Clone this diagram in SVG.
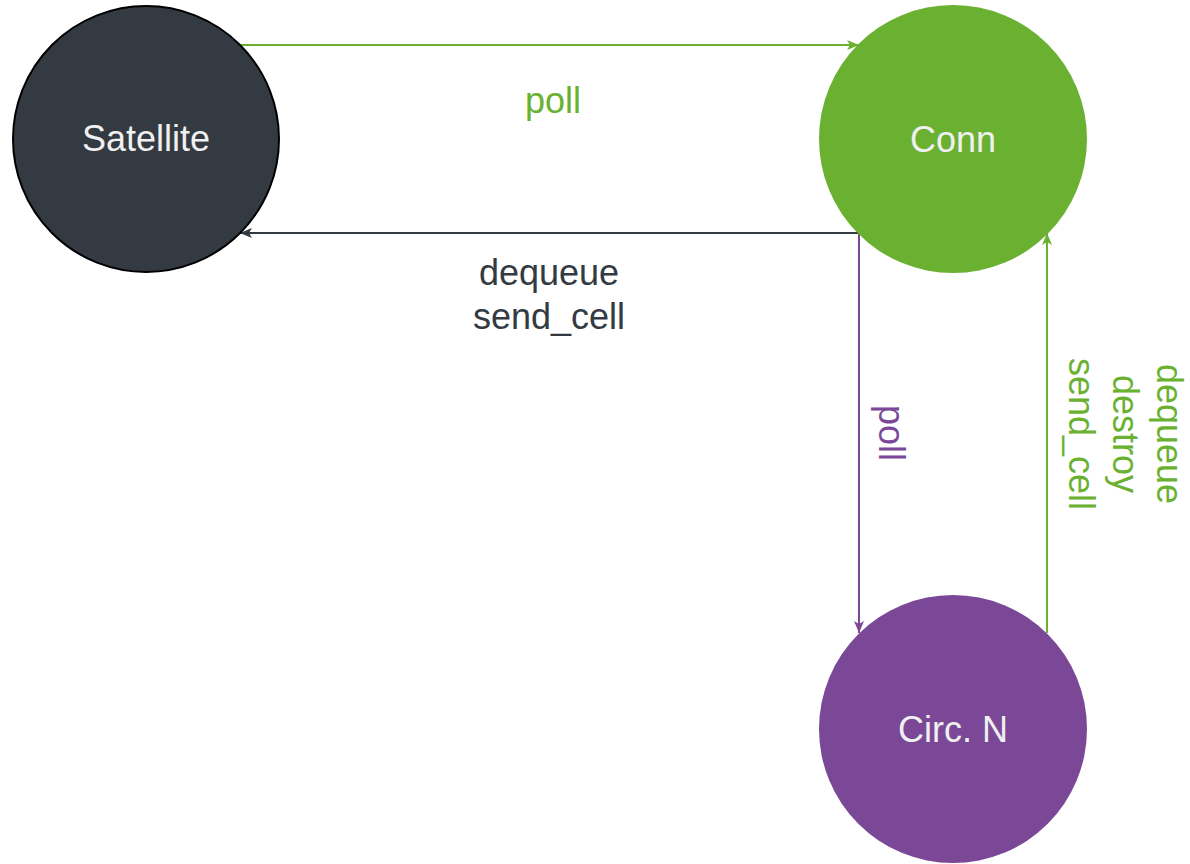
<svg xmlns="http://www.w3.org/2000/svg" width="1190" height="864" viewBox="0 0 1190 864">
<defs>
<style>
text{font-family:"Liberation Sans",Arial,sans-serif;font-size:36px;text-anchor:middle}
.node{fill:#f0f0f0}
.edge{fill:none;stroke-width:2}
.green{stroke:#6ab132}
.dark{stroke:#343a42}
.purple{stroke:#7b4897}
</style>
<marker id="ag" markerUnits="userSpaceOnUse" markerWidth="14" markerHeight="12" refX="12" refY="6" orient="auto"><path d="M0,1 L12,6 L0,11 L3,6 Z" fill="#6ab132"/></marker>
<marker id="ad" markerUnits="userSpaceOnUse" markerWidth="14" markerHeight="12" refX="12" refY="6" orient="auto"><path d="M0,1 L12,6 L0,11 L3,6 Z" fill="#343a42"/></marker>
<marker id="ap" markerUnits="userSpaceOnUse" markerWidth="14" markerHeight="12" refX="12" refY="6" orient="auto"><path d="M0,1 L12,6 L0,11 L3,6 Z" fill="#7b4897"/></marker>
</defs>
<rect width="1190" height="864" fill="#ffffff"/>
<g id="connectors">
<path class="edge green" d="M240,45 L859,45" marker-end="url(#ag)"/>
<path class="edge dark" d="M859,233 L240,233" marker-end="url(#ad)"/>
<path class="edge purple" d="M859,233 L859,633" marker-end="url(#ap)"/>
<path class="edge green" d="M1047,633 L1047,233" marker-end="url(#ag)"/>
<text x="553" y="113" fill="#6ab132">poll</text>
<text x="549" y="285" fill="#343a42">dequeue</text>
<text x="549" y="329" fill="#343a42">send_cell</text>
<text transform="translate(879,433) rotate(90)" fill="#7b4897">poll</text>
<text transform="translate(1157,434) rotate(90)" fill="#6ab132"><tspan x="0" y="0">dequeue</tspan><tspan x="0" y="44">destroy</tspan><tspan x="0" y="88">send_cell</tspan></text>
</g>
<g id="satellite">
<circle cx="146" cy="139" r="133" fill="#343a42" stroke="#000000" stroke-width="2"/>
<text class="node" x="146" y="151">Satellite</text>
</g>
<g id="conn">
<circle cx="953" cy="139" r="134" fill="#6ab132"/>
<text class="node" x="953" y="152">Conn</text>
</g>
<g id="circn">
<circle cx="953" cy="729" r="134" fill="#7b4897"/>
<text class="node" x="953" y="742">Circ. N</text>
</g>
</svg>
